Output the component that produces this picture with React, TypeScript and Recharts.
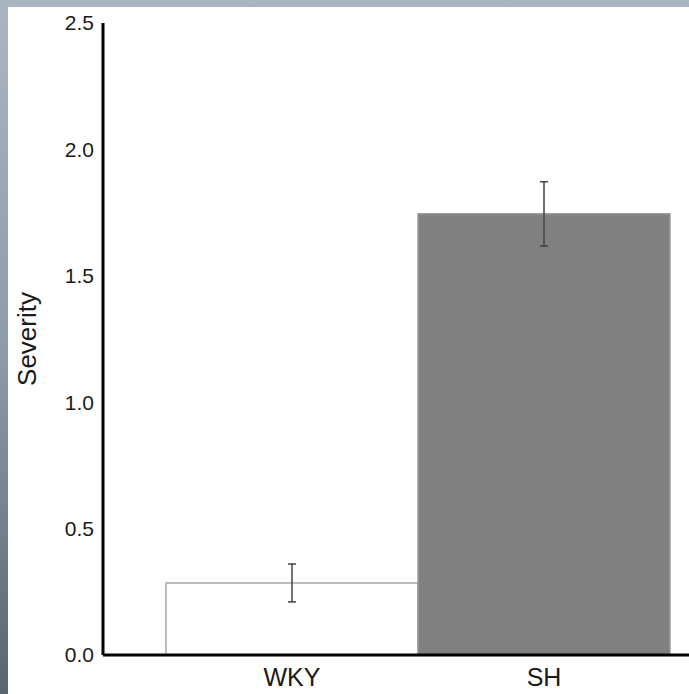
import { BarChart, Bar, Cell, XAxis, YAxis, ErrorBar } from "recharts";

const groups = ["WKY", "SH"];
const severity = [0.285, 1.745];
const sem = [0.075, 0.127];
const barFills = ["#ffffff", "#808080"];
const barStrokes = ["#a8a8a8", "#9a9a9a"];
const yTicks = [0, 0.5, 1.0, 1.5, 2.0, 2.5];

const data = groups.map((g, i) => ({
  group: g,
  severity: severity[i],
  err: sem[i],
}));

const font = "'Liberation Sans', Arial, Helvetica, sans-serif";

export default function App() {
  return (
    <div
      style={{
        position: "absolute",
        left: 0,
        top: 0,
        width: 689,
        height: 694,
        background: "linear-gradient(180deg, #a9b6c2 0%, #8c9cab 50%, #56666f 100%)",
        overflow: "hidden",
      }}
    >
      <div
        style={{
          position: "absolute",
          left: 8,
          top: 7,
          right: 0,
          bottom: 0,
          background: "#ffffff",
        }}
      />
      <BarChart
        width={689}
        height={694}
        data={data}
        margin={{ top: 23, right: 0, bottom: 0, left: 0 }}
        barCategoryGap={0}
        style={{ position: "absolute", left: 0, top: 0, fontFamily: font }}
      >
        <XAxis
          dataKey="group"
          height={39}
          padding={{ left: 63, right: 19 }}
          axisLine={{ stroke: "#000", strokeWidth: 3 }}
          tickLine={false}
          tickMargin={7}
          tick={{ fill: "#1a1a1a", fontSize: 25, fontFamily: font }}
        />
        <YAxis
          width={103}
          domain={[0, 2.5]}
          ticks={yTicks}
          interval={0}
          tickFormatter={(v: number) => v.toFixed(1)}
          axisLine={{ stroke: "#000", strokeWidth: 3 }}
          tickLine={false}
          tickMargin={3}
          tick={{ fill: "#1a1a1a", fontSize: 21, fontFamily: font }}
          label={{
            value: "Severity",
            angle: -90,
            position: "insideLeft",
            offset: 27,
            style: { textAnchor: "middle", fill: "#1a1a1a", fontSize: 26, fontFamily: font },
          }}
        />
        <Bar dataKey="severity" isAnimationActive={false} strokeWidth={1.5}>
          {data.map((d, i) => (
            <Cell key={d.group} fill={barFills[i]} stroke={barStrokes[i]} />
          ))}
          <ErrorBar
            dataKey="err"
            width={4}
            stroke="#444"
            strokeWidth={1.5}
            isAnimationActive={false}
          />
        </Bar>
      </BarChart>
    </div>
  );
}
